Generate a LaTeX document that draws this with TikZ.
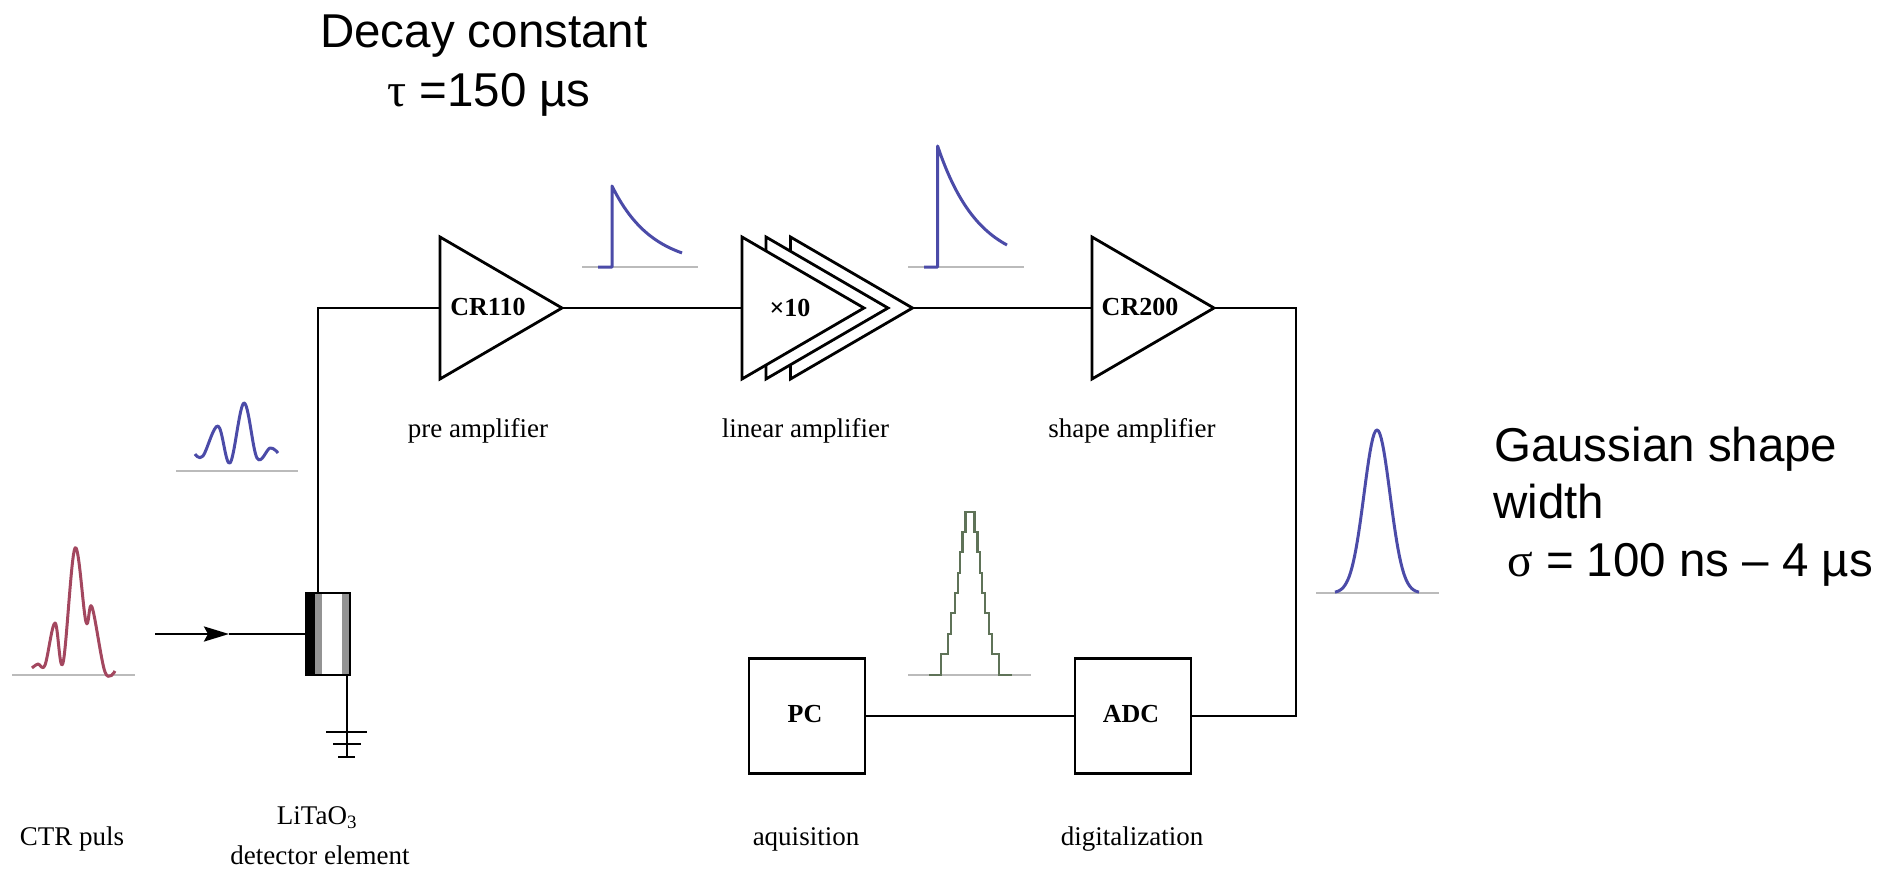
\documentclass[tikz,border=0pt]{standalone}
\usepackage{fontspec}
\usetikzlibrary{arrows.meta}
\setmainfont{Liberation Serif}
\newfontfamily\arialfont{Liberation Sans}
\definecolor{pulseblue}{HTML}{4B4BA8}
\definecolor{pulsered}{HTML}{A3475F}
\definecolor{pulsegreen}{HTML}{5F7358}
\definecolor{axisgray}{HTML}{BBBBBB}

\begin{document}
\begin{tikzpicture}
  [x=1pt,y=-1pt,
   wire/.style={line width=2.8pt,black},
   amp/.style={line width=2.8pt,fill=white,line join=miter},
   box/.style={draw,line width=2.8pt,minimum width=116pt,minimum height=115pt,inner sep=0pt},
   axis/.style={line width=2.2pt,axisgray},
   pulse/.style={line width=3pt,pulseblue,line join=round},
   lab/.style={inner sep=0pt,font=\fontsize{27}{27}\selectfont},
   blab/.style={inner sep=0pt,font=\fontsize{26}{26}\selectfont\bfseries},
   big/.style={inner sep=0pt,anchor=base west,font=\arialfont\fontsize{47.5}{47.5}\selectfont}]
  \useasboundingbox (0,0) rectangle (1898,869);

  % amplifiers, back to front
  \foreach \xl/\nm in {440/pre,790.5/linc,766/linb,742/lin,1092/shp} {
    \draw[amp] (\xl,237) -- (\xl,379) -- (\xl+122,308) -- cycle;
    \coordinate (\nm-in) at (\xl,308);
    \coordinate (\nm-out) at (\xl+122,308);
  }
  \node[blab] (cr110) at (488,307) {CR110};
  \node[blab] (x10) at (790,308) {×10};
  \node[blab] (cr200) at (1140,307) {CR200};

  \node[box] (pc) at (807,716) {};
  \node[box] (adc) at (1133,716) {};
  \node[blab] (pctxt) at (805,714) {PC};
  \node[blab] (adctxt) at (1131,714) {ADC};

  % detector
  \node[draw,line width=2pt,minimum width=44pt,minimum height=82pt,inner sep=0pt] (det) at (328,634) {};
  \fill[black] (306,593) rectangle (315,675);
  \fill[gray!85] (315,593) rectangle (322,675);
  \fill[gray!85] (342,593) rectangle (350,675);
  \draw[line width=2pt] (306,593) rectangle (350,675);

  \coordinate (dettop) at (318,593);
  \coordinate (detbot) at (347,675);
  \coordinate (gnd) at (347,757);
  \coordinate (ctrstart) at (155,634);
  \coordinate (ctrtip) at (229,634);
  \coordinate (bend) at (1296,308);

  \draw[wire] (dettop) |- (pre-in);
  \foreach \from/\to in {pre-out/lin-in,linc-out/shp-in,pc/adc,ctrtip/det.west,detbot/gnd}
    \draw[wire] (\from) -- (\to);
  \draw[wire] (shp-out) -- (bend) |- (adc);
  \draw[wire,-{Stealth[length=25pt,width=15pt,inset=4pt]}] (ctrstart) -- (ctrtip);

  % ground bars
  \draw[wire] (326,732) -- (367,732);
  \draw[wire] (333,744) -- (361,744);
  \draw[wire] (338,757) -- (355,757);

  % base lines
  \foreach \xa/\xb/\yb in {12/135/675,176/298/471,582/698/267,908/1024/267,908/1031/675,1316/1439/593}
    \draw[axis] (\xa,\yb) -- (\xb,\yb);

  % pulses
  \draw[pulse,pulsered] plot[smooth,tension=.6] coordinates {(32,668) (38,664) (45,665) (55,623) (63,663) (75,548) (86,622) (92,607) (105,672) (115,671)};
  \draw[pulse] plot[smooth,tension=.6] coordinates {(195,454) (203,456) (218,426) (230,463) (244,403) (257,458) (270,448) (278,453)};
  \draw[pulse] (598,267) -- (612,267) -- (612,186) -- plot[domain=0:70,samples=30] ({612+\x},{267-81*exp(-\x/40)});
  \draw[pulse] (924,267) -- (937.6,267) -- (937.6,146) -- plot[domain=0:69.4,samples=30] ({937.6+\x},{267-121*exp(-\x/40.7)});
  \draw[pulse] plot[domain=-42:42,samples=61] ({1377+\x},{593-163*exp(-\x*\x/338)});
  \draw[line width=2.8pt,pulsegreen] (929,675) -| (941,654) -| (948,634) -| (951,613) -| (955,593) -| (958,573) -| (960,552) -| (962.5,532) -| (965.5,512)
    -| (974.5,532) -| (977.5,552) -| (980,573) -| (982,593) -| (985,613) -| (989,634) -| (992,654) -| (999,675) -- (1012,675);

  % labels
  \node[lab] (ctrlab) at (72,839) {CTR puls};
  \node[lab] (litao) at (317,818) {LiTaO\textsubscript{3}};
  \node[lab] (detlab) at (320,855) {detector element};
  \node[lab] (prelab) at (478,431) {pre amplifier};
  \node[lab] (linlab) at (805.5,431) {linear amplifier};
  \node[lab] (shplab) at (1132,431) {shape amplifier};
  \node[lab] (pclab) at (806,839) {aquisition};
  \node[lab] (adclab) at (1132,839) {digitalization};

  \node[big] (decay) at (320,48) {Decay constant};
  \node[big] (tau) at (387,107) {\textrm{τ} =150 µs};
  \node[big] (gauss) at (1494,461) {Gaussian shape};
  \node[big] (width) at (1493,518) {width};
  \node[big] (sigma) at (1507,576) {\textrm{σ} = 100 ns – 4 µs};
\end{tikzpicture}
\end{document}
